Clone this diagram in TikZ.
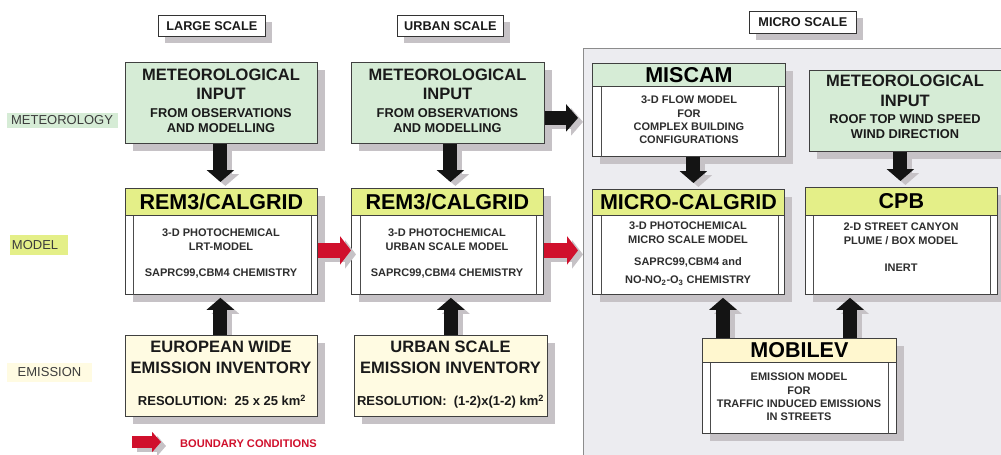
\documentclass[tikz,border=0pt]{standalone}
\usepackage{fontspec}
\setmainfont{Liberation Sans}
\usetikzlibrary{arrows.meta,calc}
\definecolor{metgreen}{HTML}{D6ECD6}
\definecolor{hdryel}{HTML}{E4EF88}
\definecolor{emiyel}{HTML}{FFFBE2}
\definecolor{mobhdr}{HTML}{FFF7CF}
\definecolor{panelc}{HTML}{ECECF0}
\definecolor{shadowc}{HTML}{C6C2C6}
\definecolor{bc}{HTML}{D0102C}
\definecolor{txt}{HTML}{1A1A1A}
\definecolor{bodyc}{HTML}{2E2E2E}
\definecolor{lbl}{HTML}{3C3C3C}
% #1 name, #2 style, #3 x, #4 y, #5 w, #6 h, #7 shadow offset, #8 text
\newcommand\mkbox[8]{%
  \fill[shadowc] ({#3+#7},{#4+#7}) rectangle ({#3+#5+#7},{#4+#6+#7});
  \node[#2, anchor=north west, minimum width=#5pt, minimum height=#6pt] (#1) at (#3,#4) {#8};}
% #1 style, #2 start, #3 end, #4 shadow start y-offset
\newcommand\shadarrow[4]{%
  \draw[#1, draw=shadowc] ($#2+(5,#4)$) -- ($#3+(5,4)$);
  \draw[#1] #2 -- #3;}
\begin{document}
\begin{tikzpicture}[x=1pt,y=-1pt,
  box/.style={draw=black!75, line width=0.8pt, inner sep=0pt},
  hdr/.style={draw=black!75, line width=0.8pt, anchor=north west, inner sep=0pt,
    font=\fontsize{21.5}{24}\selectfont\bfseries, text=black},
  ttl/.style={font=\fontsize{16.5}{#1}\selectfont\bfseries, align=center, inner sep=0pt, text=txt},
  ttl/.default=19,
  subt/.style={font=\fontsize{12.8}{15}\selectfont\bfseries, align=center, inner sep=0pt, text=txt},
  bodytxt/.style={font=\fontsize{11}{#1}\selectfont\bfseries, align=center, inner sep=0pt, text=bodyc},
  bodytxt/.default=14,
  restxt/.style={font=\fontsize{13}{15}\selectfont\bfseries, inner sep=0pt, anchor=base, text=txt},
  innerln/.style={draw=black!70, line width=0.6pt},
  scalebox/.style={draw=black!80, line width=0.8pt, fill=white, inner sep=0pt,
    font=\fontsize{12.7}{15}\selectfont\bfseries, text=txt},
  lblbox/.style={inner sep=0pt, font=\fontsize{13}{15}\selectfont, text=lbl},
  barrow/.style={line width=14pt, draw=black!92, -{Triangle[width=27pt,length=12pt]}},
  rarrow/.style={line width=15pt, draw=bc, -{Triangle[width=28pt,length=11pt]}},
  larrow/.style={line width=12pt, draw=bc, -{Triangle[width=20pt,length=9pt]}}
]
\useasboundingbox (0,0) rectangle (1001,455);

% micro scale panel
\node[draw=black!45, line width=0.8pt, fill=panelc, anchor=north west, inner sep=0pt,
  minimum width=430pt, minimum height=420pt] (micro) at (583,48) {};

% scale labels
\mkbox{lsc}{scalebox}{158}{15}{107}{21}{7}{LARGE SCALE}
\mkbox{usc}{scalebox}{397}{15}{106}{21}{7}{URBAN SCALE}
\mkbox{msc}{scalebox}{749}{11}{107}{22}{7}{MICRO SCALE}

% row labels
\node[lblbox, fill=metgreen, minimum width=111pt, minimum height=15pt] (lmet) at (62,120.5) {METEOROLOGY};
\node[lblbox, fill=hdryel, text width=54pt, align=left, inner xsep=2pt, minimum height=20pt] (lmod) at (39,245) {MODEL};
\node[lblbox, fill=emiyel, minimum width=85pt, minimum height=19pt] (lemi) at (49.5,372.5) {EMISSION};

% meteorological input boxes
\mkbox{metL}{box, fill=metgreen}{125}{62}{192}{81}{8}{}
\node[ttl] (metLt) at (221,84.5) {METEOROLOGICAL\\INPUT};
\node[subt] (metLs) at (221,120.5) {FROM OBSERVATIONS\\AND MODELLING};

\mkbox{metU}{box, fill=metgreen}{351}{62}{193}{81}{8}{}
\node[ttl] (metUt) at (447.5,84.5) {METEOROLOGICAL\\INPUT};
\node[subt] (metUs) at (447.5,120.5) {FROM OBSERVATIONS\\AND MODELLING};

\mkbox{metM}{box, fill=metgreen}{809}{70}{192}{81}{8}{}
\node[ttl=20] (metMt) at (905,91) {METEOROLOGICAL\\INPUT};
\node[subt] (metMs) at (905,126.5) {ROOF TOP WIND SPEED\\WIND DIRECTION};

% MISCAM
\mkbox{miscam}{box, fill=white}{592}{63}{193}{93}{8}{}
\node[hdr, fill=metgreen, minimum width=193pt, minimum height=23pt] (miscamh) at (miscam.north west) {MISCAM};
\draw[innerln] ($(miscamh.south west)+(9,0)$) -- ($(miscam.south west)+(9,0)$);
\draw[innerln] ($(miscamh.south east)+(-8,0)$) -- ($(miscam.south east)+(-8,0)$);
\node[bodytxt=13.3] (miscamt) at (689,120) {3-D FLOW MODEL\\FOR\\COMPLEX BUILDING\\CONFIGURATIONS};

% model boxes
\mkbox{remL}{box, fill=white}{125}{188}{192}{106}{8}{}
\node[hdr, fill=hdryel, minimum width=192pt, minimum height=27pt] (remLh) at (remL.north west) {REM3/CALGRID};
\draw[innerln] ($(remLh.south west)+(8,0)$) -- ($(remL.south west)+(8,0)$);
\draw[innerln] ($(remLh.south east)+(-7,0)$) -- ($(remL.south east)+(-7,0)$);
\node[bodytxt] (remLt) at (221,254) {3-D PHOTOCHEMICAL\\LRT-MODEL\\[12pt]SAPRC99,CBM4 CHEMISTRY};

\mkbox{remU}{box, fill=white}{351}{188}{192}{106}{8}{}
\node[hdr, fill=hdryel, minimum width=192pt, minimum height=27pt] (remUh) at (remU.north west) {REM3/CALGRID};
\draw[innerln] ($(remUh.south west)+(9,0)$) -- ($(remU.south west)+(9,0)$);
\draw[innerln] ($(remUh.south east)+(-8,0)$) -- ($(remU.south east)+(-8,0)$);
\node[bodytxt] (remUt) at (447,254) {3-D PHOTOCHEMICAL\\URBAN SCALE MODEL\\[12pt]SAPRC99,CBM4 CHEMISTRY};

\mkbox{mcal}{box, fill=white}{592}{189}{192}{105}{8}{}
\node[hdr, fill=hdryel, minimum width=192pt, minimum height=26pt] (mcalh) at (mcal.north west) {MICRO-CALGRID};
\draw[innerln] ($(mcalh.south west)+(9,0)$) -- ($(mcal.south west)+(9,0)$);
\draw[innerln] ($(mcalh.south east)+(-7,0)$) -- ($(mcal.south east)+(-7,0)$);
\node[bodytxt] (mcalt) at (688,254) {3-D PHOTOCHEMICAL\\MICRO SCALE MODEL\\[8pt]SAPRC99,CBM4 and\\[4pt]NO-NO\textsubscript{2}-O\textsubscript{3} CHEMISTRY};

\mkbox{cpb}{box, fill=white}{805}{187}{192}{107}{8}{}
\node[hdr, fill=hdryel, minimum width=192pt, minimum height=28pt] (cpbh) at (cpb.north west) {CPB};
\draw[innerln] ($(cpbh.south west)+(8,0)$) -- ($(cpb.south west)+(8,0)$);
\draw[innerln] ($(cpbh.south east)+(-8,0)$) -- ($(cpb.south east)+(-8,0)$);
\node[bodytxt] (cpbt) at (901,247.5) {2-D STREET CANYON\\PLUME / BOX MODEL\\[13pt]INERT};

% emission boxes
\mkbox{emiL}{box, fill=emiyel}{125}{335}{192}{81}{8}{}
\node[ttl=21] (emiLt) at (221,357.5) {EUROPEAN WIDE\\EMISSION INVENTORY};
\node[restxt] (emiLr) at (222,405.7) {RESOLUTION:\ \ 25 x 25 km\textsuperscript{2}};

\mkbox{emiU}{box, fill=emiyel}{354}{335}{193}{81}{8}{}
\node[ttl=21] (emiUt) at (450.5,357.5) {URBAN SCALE\\EMISSION INVENTORY};
\node[restxt] (emiUr) at (450.5,405.7) {RESOLUTION:\ \ (1-2)x(1-2) km\textsuperscript{2}};

% MOBILEV
\mkbox{mobilev}{box, fill=white}{702}{338}{194}{95}{8}{}
\node[hdr, fill=mobhdr, minimum width=194pt, minimum height=24pt] (mobilevh) at (mobilev.north west) {MOBILEV};
\draw[innerln] ($(mobilevh.south west)+(8,0)$) -- ($(mobilev.south west)+(8,0)$);
\draw[innerln] ($(mobilevh.south east)+(-9,0)$) -- ($(mobilev.south east)+(-9,0)$);
\node[bodytxt=13.3] (mobilevt) at (799,397) {EMISSION MODEL\\FOR\\TRAFFIC INDUCED EMISSIONS\\IN STREETS};

% arrow end points
\coordinate (a1s) at ($(metL.south)+(-1,0)$);
\coordinate (a1e) at ($(metL.south |- remL.north)+(-1,-6)$);
\coordinate (a2s) at ($(metU.south)+(2.5,0)$);
\coordinate (a2e) at ($(metU.south |- remU.north)+(2.5,-6)$);
\coordinate (a3s) at ($(miscam.south)+(4.5,0)$);
\coordinate (a3e) at ($(miscam.south |- mcal.north)+(4.5,-6)$);
\coordinate (a4s) at ($(cpb.north |- metM.south)+(-1,0)$);
\coordinate (a4e) at ($(cpb.north)+(-1,-6)$);
\coordinate (a5s) at ($(emiL.north)+(-1,0)$);
\coordinate (a5e) at ($(emiL.north |- remL.south)+(-1,3)$);
\coordinate (a6s) at (emiU.north);
\coordinate (a6e) at ($(emiU.north |- remU.south)+(0,3)$);
\coordinate (a7s) at ($(mobilev.north west)+(21,0)$);
\coordinate (a7e) at ($(mobilev.north west |- mcal.south)+(21,3)$);
\coordinate (a8s) at ($(mobilev.north west)+(148,0)$);
\coordinate (a8e) at ($(mobilev.north west |- cpb.south)+(148,3)$);
\coordinate (a9s) at ($(metU.east)+(0,15)$);
\coordinate (a9e) at ($(metU.east -| micro.west)+(-5,15)$);
\coordinate (r1s) at ($(remL.east)+(0,9)$);
\coordinate (r1e) at ($(remU.west)+(0,9)$);
\coordinate (r2s) at ($(remU.east)+(0,9)$);
\coordinate (r2e) at ($(remU.east -| micro.west)+(-5,9)$);

% black arrows
\shadarrow{barrow}{(a1s)}{(a1e)}{4}
\shadarrow{barrow}{(a2s)}{(a2e)}{4}
\shadarrow{barrow}{(a3s)}{(a3e)}{4}
\shadarrow{barrow}{(a4s)}{(a4e)}{4}
\shadarrow{barrow}{(a5s)}{(a5e)}{0}
\shadarrow{barrow}{(a6s)}{(a6e)}{0}
\shadarrow{barrow}{(a7s)}{(a7e)}{0}
\shadarrow{barrow}{(a8s)}{(a8e)}{0}
\shadarrow{barrow}{(a9s)}{(a9e)}{4}

% red boundary-condition arrows
\shadarrow{rarrow}{(r1s)}{(r1e)}{4}
\shadarrow{rarrow}{(r2s)}{(r2e)}{4}

% legend
\coordinate (lg1) at (132,442);
\coordinate (lg2) at (161,442);
\shadarrow{larrow}{(lg1)}{(lg2)}{4}
\node[inner sep=0pt, font=\fontsize{11.1}{13}\selectfont\bfseries, text=bc, anchor=west] (lgt) at (180,444) {BOUNDARY CONDITIONS};
\end{tikzpicture}
\end{document}
